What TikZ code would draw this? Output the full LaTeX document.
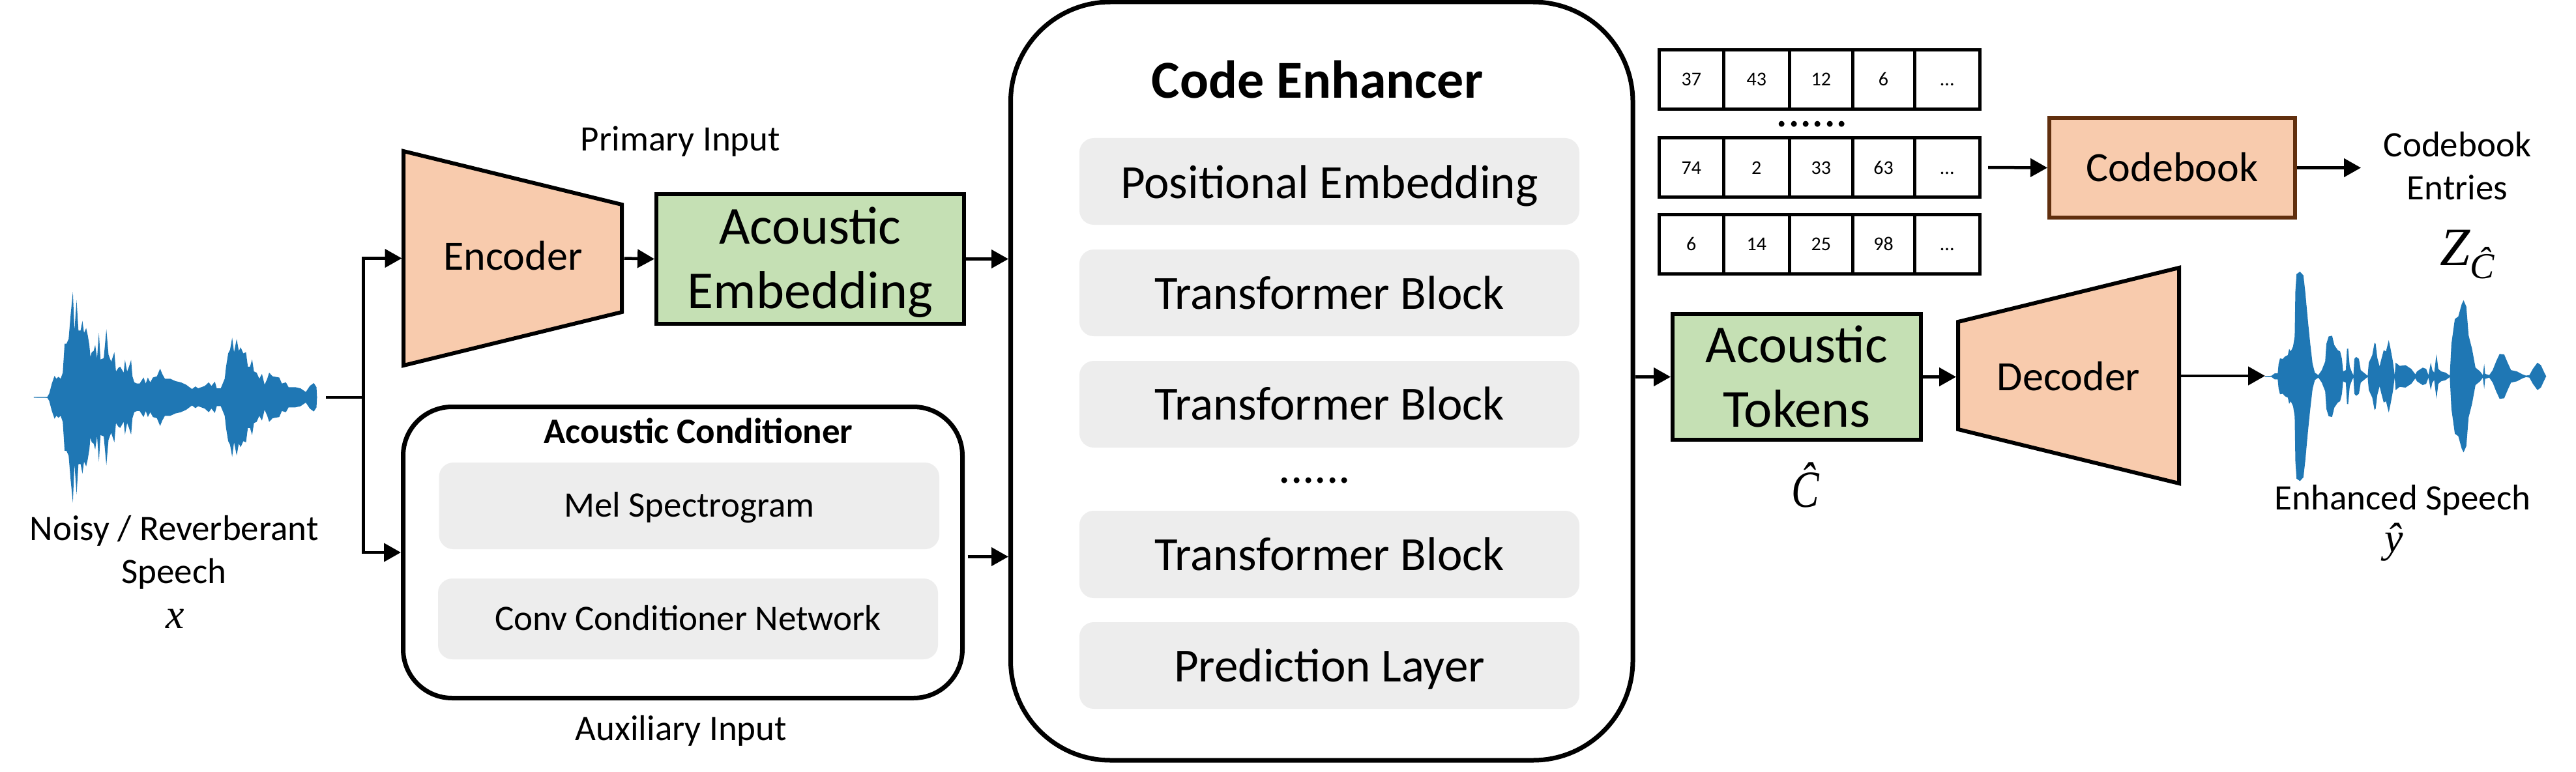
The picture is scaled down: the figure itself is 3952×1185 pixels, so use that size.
\documentclass[tikz,border=0pt]{standalone}
\usepackage{fontspec}
\usepackage{graphicx}
\setmainfont{Carlito}
\newfontfamily\symfont{Liberation Serif}
\usetikzlibrary{arrows.meta,calc}
\definecolor{peach}{HTML}{F8CBAD}
\definecolor{leaf}{HTML}{C5E0B4}
\definecolor{panel}{HTML}{EDEDED}
\definecolor{bark}{HTML}{612F0E}
\definecolor{wavec}{HTML}{1F77B4}
\newcommand{\fsz}[2]{\fontsize{#1}{#2}\selectfont}
\tikzset{
  conn/.style={line width=4.5pt,-{Triangle[length=26pt,width=28pt]}},
  plainconn/.style={line width=4.5pt},
  stroked/.style={draw=black,line width=6pt},
  greenbox/.style={stroked,fill=leaf,inner sep=0pt},
  trapslot/.style={inner sep=0pt,outer sep=0pt,font=\fsz{64}{70}},
  trap/.style={stroked,fill=peach,miter limit=20},
  roundbox/.style={draw=black,line width=7pt,fill=white,inner sep=0pt},
  graybox/.style={fill=panel,rounded corners=22pt,inner sep=0pt,outer sep=0pt},
  cellbox/.style={draw=black,line width=5pt,fill=white,inner sep=0pt,font=\fsz{30}{36},text height=20pt,text depth=0pt},
  lab/.style={anchor=base,inner sep=0pt,outer sep=0pt,font=\fsz{55}{66},align=center},
  baseoff/.style={text height=2*#1,text depth=0pt},
  wavefill/.style={fill=wavec},
  noisyhalf/.pic={\fill[wavefill] (127,-1.5) -- (127,1) -- (178,2) -- (185,15) -- (195,57) -- (205,89) -- (212,77) -- (220,85) -- (228,77) -- (236,102) -- (243,222) -- (250,222) -- (258,242) -- (266,347) -- (274,437) -- (280,277) -- (288,402) -- (295,277) -- (303,277) -- (310,317) -- (316,267) -- (324,287) -- (330,257) -- (336,217) -- (340,167) -- (345,187) -- (352,192) -- (358,217) -- (365,162) -- (372,267) -- (378,157) -- (390,162) -- (400,282) -- (408,177) -- (418,147) -- (430,187) -- (436,107) -- (445,122) -- (452,127) -- (465,102) -- (470,155) -- (478,107) -- (485,127) -- (493,155) -- (498,87) -- (505,62) -- (515,57) -- (525,57) -- (540,82) -- (548,57) -- (556,82) -- (565,62) -- (575,82) -- (590,87) -- (602,119) -- (610,97) -- (620,77) -- (640,77) -- (660,67) -- (680,62) -- (700,52) -- (722,34) -- (735,45) -- (745,37) -- (770,47) -- (785,62) -- (795,47) -- (808,65) -- (815,37) -- (830,37) -- (845,77) -- (850,127) -- (858,182) -- (865,197) -- (873,247) -- (880,187) -- (890,242) -- (898,192) -- (905,207) -- (915,182) -- (925,187) -- (932,127) -- (940,127) -- (948,157) -- (955,107) -- (965,102) -- (975,77) -- (985,97) -- (995,52) -- (1005,77) -- (1012,102) -- (1025,87) -- (1050,82) -- (1060,57) -- (1075,62) -- (1085,42) -- (1110,42) -- (1130,37) -- (1150,22) -- (1165,47) -- (1180,59) -- (1190,42) -- (1192,0) -- (1192,-1.5) -- cycle;},
  enhancedhalf/.pic={\fill[wavefill] (213,-1.5) -- (213,1) -- (240,2) -- (255,12) -- (268,12) -- (272,50) -- (278,72) -- (290,70) -- (300,80) -- (312,85) -- (318,110) -- (325,100) -- (335,120) -- (342,160) -- (345,340) -- (350,410) -- (365,420) -- (380,405) -- (388,340) -- (400,220) -- (410,130) -- (420,50) -- (430,15) -- (445,5) -- (460,25) -- (475,60) -- (480,130) -- (490,160) -- (505,163) -- (515,125) -- (530,105) -- (540,100) -- (548,70) -- (553,20) -- (565,25) -- (570,110) -- (575,112) -- (582,40) -- (592,15) -- (598,5) -- (602,70) -- (610,78) -- (622,70) -- (630,25) -- (650,10) -- (660,2) -- (665,55) -- (680,85) -- (690,135) -- (695,130) -- (702,75) -- (712,40) -- (720,70) -- (730,105) -- (740,100) -- (752,145) -- (760,110) -- (770,60) -- (778,5) -- (782,55) -- (800,42) -- (825,45) -- (850,30) -- (868,8) -- (875,20) -- (900,35) -- (915,30) -- (925,5) -- (935,55) -- (942,25) -- (950,15) -- (960,90) -- (968,30) -- (980,20) -- (1000,15) -- (1018,3) -- (1025,130) -- (1040,230) -- (1055,240) -- (1070,290) -- (1078,305) -- (1090,280) -- (1100,165) -- (1115,110) -- (1130,35) -- (1150,20) -- (1162,5) -- (1168,50) -- (1172,10) -- (1190,5) -- (1205,25) -- (1220,60) -- (1235,90) -- (1255,88) -- (1270,55) -- (1285,25) -- (1310,20) -- (1335,8) -- (1350,3) -- (1365,5) -- (1380,30) -- (1400,55) -- (1415,45) -- (1430,15) -- (1438,0) -- (1438,-1.5) -- cycle;}
}
\newcommand{\cellrow}[6]{%
  \node[cellbox,minimum width=98.5pt,minimum height=91pt] (#1a) at (2594.75,#2) {#3};
  \node[cellbox,minimum width=101.5pt,minimum height=91pt] (#1b) at (2694.75,#2) {#4};
  \node[cellbox,minimum width=96.5pt,minimum height=91pt] (#1c) at (2793.75,#2) {#5};
  \node[cellbox,minimum width=95pt,minimum height=91pt] (#1d) at (2889.5,#2) {#6};
  \node[cellbox,minimum width=100.5pt,minimum height=91pt] (#1e) at (2987.25,#2) {...};
}
\begin{document}
\begin{tikzpicture}[x=1pt,y=-1pt]
\useasboundingbox (0,0) rectangle (3952,1185);

% waveforms
\node[inner sep=0pt,outer sep=0pt,minimum width=436pt,minimum height=324pt] (noisywave) at (269,609.8) {};
\pic[xscale=.408,yscale=-.37] at (0,609.8) {noisyhalf};
\pic[xscale=.408,yscale=.37] at (0,609.8) {noisyhalf};
\node[inner sep=0pt,outer sep=0pt,minimum width=431pt,minimum height=321pt] (enhancedwave) at (3690.5,577.7) {};
\pic[xscale=.352,yscale=-.3827] at (3400,577.7) {enhancedhalf};
\pic[xscale=.352,yscale=.3827] at (3400,577.7) {enhancedhalf};

% left labels
\node[lab] (noisylabel) at (267,895) {Noisy / Reverberant\\Speech};
\node[lab,font=\symfont\itshape\fsz{64}{70}] (xlabel) at (269,964) {x};
\node[lab] (primary) at (1044,232) {Primary Input};
\node[lab] (auxiliary) at (1045,1136) {Auxiliary Input};

% encoder and embedding
\draw[trap] (619,232) -- (954,314) -- (954,479) -- (619,561) -- cycle;
\node[trapslot,baseoff=17.5pt,minimum width=341pt,minimum height=343pt] (encoder) at (787,396.5) {Encoder};
\node[greenbox,font=\fsz{82}{99},align=center,text height=151pt,text depth=0pt,minimum width=472pt,minimum height=199pt] (embedding) at (1243,397.5) {Acoustic\\Embedding};

% conditioner
\node[roundbox,rounded corners=75pt,minimum width=858pt,minimum height=447pt] (conditioner) at (1047.5,848) {};
\node[lab,font=\bfseries\fsz{55}{60}] (condtitle) at (1071.5,680) {Acoustic Conditioner};
\node[graybox,font=\fsz{55}{60},baseoff=16.5pt,minimum width=767.5pt,minimum height=133pt] (mel) at (1057.25,776.5) {Mel Spectrogram};
\node[graybox,font=\fsz{55}{60},baseoff=17pt,minimum width=767pt,minimum height=124pt] (conv) at (1055.5,950) {Conv Conditioner Network};

% enhancer
\node[roundbox,rounded corners=153pt,minimum width=954.5pt,minimum height=1164pt] (enhancer) at (2027.75,585) {};
\node[lab,font=\bfseries\fsz{82}{90}] (enhtitle) at (2021,151) {Code Enhancer};
\node[graybox,font=\fsz{73}{80},baseoff=25.5pt,minimum width=767pt,minimum height=133pt] (pos) at (2039.5,278.5) {Positional Embedding};
\node[graybox,font=\fsz{73}{80},baseoff=25pt,minimum width=767pt,minimum height=133pt] (tba) at (2039.5,449.5) {Transformer Block};
\node[graybox,font=\fsz{73}{80},baseoff=23.5pt,minimum width=767pt,minimum height=133pt] (tbb) at (2039.5,620.5) {Transformer Block};
\node[lab,font=\fsz{73}{80}] (enhdots) at (2017,741) {......};
\node[graybox,font=\fsz{73}{80},baseoff=24pt,minimum width=767pt,minimum height=134pt] (tbc) at (2039.5,851) {Transformer Block};
\node[graybox,font=\fsz{73}{80},baseoff=24.5pt,minimum width=767pt,minimum height=133pt] (pred) at (2039.5,1021.5) {Prediction Layer};

% token rows
\cellrow{ra}{122}{37}{43}{12}{6}{...}
\node[lab,font=\fsz{73}{80}] (rowdots) at (2780,195) {......};
\cellrow{rb}{257}{74}{2}{33}{63}{...}
\cellrow{rc}{374.5}{6}{14}{25}{98}{...}

% codebook
\node[draw=bark,line width=6pt,fill=peach,inner sep=0pt,font=\fsz{64}{70},baseoff=20.5pt,minimum width=377pt,minimum height=153pt] (codebook) at (3332.5,257.5) {Codebook};
\node[lab] (entries) at (3770,306) {Codebook\\Entries};
\node[lab,font=\symfont\itshape\fsz{83}{90}] (zlabel) at (3785,407) {Z\raisebox{-20pt}{\fsz{56}{60}Ĉ}};

% tokens and decoder
\node[greenbox,font=\fsz{82}{99},align=center,text height=153pt,text depth=0pt,minimum width=381pt,minimum height=193pt] (tokens) at (2756.5,578.5) {Acoustic\\Tokens};
\node[lab,font=\symfont\itshape\fsz{80}{90}] (chat) at (2770,778) {\scalebox{.8}[1]{Ĉ}};
\draw[trap] (3004,494) -- (3343,411) -- (3343,742) -- (3004,659) -- cycle;
\node[trapslot,baseoff=22pt,minimum width=345pt,minimum height=343pt] (decoder) at (3173.5,577) {Decoder};

% right labels
\node[lab] (enhlabel) at (3686,782) {Enhanced Speech};
\node[lab,font=\symfont\itshape\fsz{64}{70}] (yhat) at (3673,847) {ŷ};

% connectors
\coordinate (junction) at (557.5,609.8);
\coordinate (condout) at ($(conditioner.east)+(4.5,6.5)$);
\draw[plainconn,shorten <=13pt] (noisywave.east) -- (junction);
\draw[conn] (junction) |- (encoder.west);
\draw[conn] (junction) |- (conditioner.west);
\draw[conn] (encoder.east) -- (embedding.west);
\draw[conn] (embedding.east) -- (embedding.east -| enhancer.west);
\draw[conn] (condout) -- (condout -| enhancer.west);
\draw[conn] (tokens.west -| enhancer.east) -- (tokens.west);
\draw[conn] (tokens.east) -- (tokens.east -| decoder.west);
\draw[conn] (decoder.east) -- (decoder.east -| enhancedwave.west);
\draw[conn,shorten <=10pt] (rbe.east) -- (codebook.west);
\draw[conn] (codebook.east) -- ++(98,0);
\end{tikzpicture}
\end{document}
